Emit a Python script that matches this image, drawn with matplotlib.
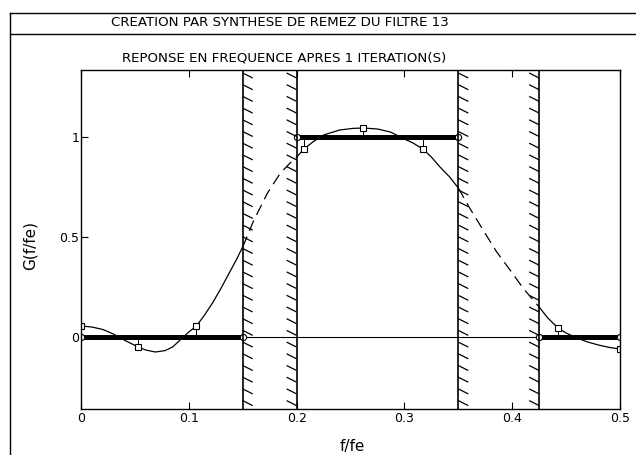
import numpy as np
import matplotlib
matplotlib.use("Agg")
import matplotlib.pyplot as plt
from matplotlib.lines import Line2D
from matplotlib.collections import LineCollection
from matplotlib import font_manager

names = sorted({f.name for f in font_manager.fontManager.ttflist})
narrow = [n for n in ['DejaVu Sans Condensed', 'Liberation Sans Narrow'] if n in names]
plt.rcParams['font.family'] = narrow + ['DejaVu Sans']

#%% data
# frequency response after 1 iteration, split into solid / dashed pieces
f_pass1 = [0.000, 0.010, 0.020, 0.030, 0.040, 0.053, 0.060, 0.069, 0.078,
           0.085, 0.094, 0.100, 0.107, 0.114, 0.122, 0.130, 0.138, 0.144, 0.150]
g_pass1 = [0.055, 0.050, 0.038, 0.015, -0.015, -0.050, -0.065, -0.075, -0.068,
           -0.050, -0.005, 0.025, 0.055, 0.105, 0.170, 0.245, 0.325, 0.385, 0.450]
f_tr1 = [0.150, 0.160, 0.173, 0.185, 0.194, 0.200]
g_tr1 = [0.450, 0.580, 0.720, 0.820, 0.870, 0.900]
f_pass2 = [0.200, 0.207, 0.215, 0.225, 0.240, 0.252, 0.262, 0.275, 0.287,
           0.300, 0.308, 0.317, 0.325, 0.333, 0.342, 0.350]
g_pass2 = [0.900, 0.940, 0.975, 1.010, 1.035, 1.043, 1.045, 1.040, 1.025,
           0.990, 0.970, 0.940, 0.900, 0.850, 0.800, 0.745]
f_tr2 = [0.350, 0.360, 0.373, 0.385, 0.398, 0.410, 0.425]
g_tr2 = [0.745, 0.650, 0.535, 0.430, 0.335, 0.245, 0.150]
f_pass3 = [0.425, 0.433, 0.4425, 0.450, 0.460, 0.470, 0.480, 0.490, 0.500]
g_pass3 = [0.150, 0.095, 0.045, 0.020, -0.005, -0.025, -0.040, -0.052, -0.060]

# extremal points and the desired value at each
f_ext = [0.000, 0.053, 0.107, 0.207, 0.262, 0.317, 0.4425, 0.500]
g_ext = [0.055, -0.050, 0.055, 0.940, 1.045, 0.940, 0.045, -0.060]
d_ext = [0, 0, 0, 1, 1, 1, 0, 0]

# desired bands (start, stop, gain)
bands = [(0.0, 0.15, 0.0), (0.2, 0.35, 1.0), (0.425, 0.5, 0.0)]
# transition band edges and which side the hatching goes
edges = [(0.15, 1), (0.2, -1), (0.35, 1), (0.425, -1)]

xlim = (0.0, 0.5)
ylim = (-0.36, 1.335)

#%% figure
W, H = 636, 455
fig = plt.figure(figsize=(W / 100, H / 100), dpi=100)
ax_l, ax_r, ax_t, ax_b = 81, 620, 70, 409
ax = fig.add_axes([ax_l / W, 1 - ax_b / H, (ax_r - ax_l) / W, (ax_b - ax_t) / H])
ax.set_xlim(*xlim)
ax.set_ylim(*ylim)

# outer frame and title separator
fx = lambda px: px / W
fy = lambda py: 1 - py / H
for xs, ys in [([9.5, 9.5], [455, 12.5]), ([9.5, 636], [12.5, 12.5]),
               ([9.5, 636], [34, 34])]:
    fig.add_artist(Line2D([fx(v) for v in xs], [fy(v) for v in ys],
                          color='black', lw=1.0))

tsize = 10.5 if narrow else 9.6
fig.text(fx(280), fy(23), "CREATION PAR SYNTHESE DE REMEZ DU FILTRE 13",
         ha='center', va='center', fontsize=tsize)
fig.text(fx(284), fy(58), "REPONSE EN FREQUENCE APRES 1 ITERATION(S)",
         ha='center', va='center', fontsize=tsize)

# zero line
ax.axhline(0, color='black', lw=0.8)

# desired response, thick bars
for a, b, g in bands:
    ax.plot([a, b], [g, g], color='black', lw=3.6, solid_capstyle='butt')
    ax.plot([a, b], [g, g], 'o', ms=4.5, mfc='white', mec='black', mew=0.8)

# response curve
for fs, gs, ls in [(f_pass1, g_pass1, '-'), (f_tr1, g_tr1, (0, (9, 5))),
                   (f_pass2, g_pass2, '-'), (f_tr2, g_tr2, (0, (9, 5))),
                   (f_pass3, g_pass3, '-')]:
    ax.plot(fs, gs, color='black', lw=0.9, linestyle=ls)

# error lines and extremal squares
ax.vlines(f_ext, d_ext, g_ext, color='black', lw=0.7)
ax.plot(f_ext, g_ext, 's', ms=4.5, mfc='white', mec='black', mew=0.8)

# hatched transition band edges
pxx = (xlim[1] - xlim[0]) / (ax_r - ax_l)
pxy = (ylim[1] - ylim[0]) / (ax_b - ax_t)
segs = []
for e, side in edges:
    ax.axvline(e, color='black', lw=1.2)
    for yy in np.arange(ylim[1] - 3 * pxy, ylim[0], -11.7 * pxy):
        if side > 0:
            segs.append([(e, yy), (e + 10 * pxx, yy - 5 * pxy)])
        else:
            segs.append([(e - 10 * pxx, yy), (e, yy - 5 * pxy)])
ax.add_collection(LineCollection(segs, colors='black', lw=0.9))

# ticks and labels
ax.set_xticks([0, 0.1, 0.2, 0.3, 0.4, 0.5])
ax.set_xticklabels(["0", "0.1", "0.2", "0.3", "0.4", "0.5"])
ax.set_yticks([0, 0.5, 1])
ax.set_yticklabels(["0", "0.5", "1"])
ax.tick_params(direction='in', length=5, width=0.8, top=True, labelsize=9,
               pad=2)
ax.tick_params(axis='y', pad=1)
for s in ax.spines.values():
    s.set_linewidth(1.0)

fig.text(fx(352), fy(446), "f/fe", ha='center', va='center', fontsize=11)
fig.text(fx(30), fy(245), "G(f/fe)", ha='center', va='center', fontsize=11,
         rotation=90)

fig.savefig('out.png', dpi=100)
